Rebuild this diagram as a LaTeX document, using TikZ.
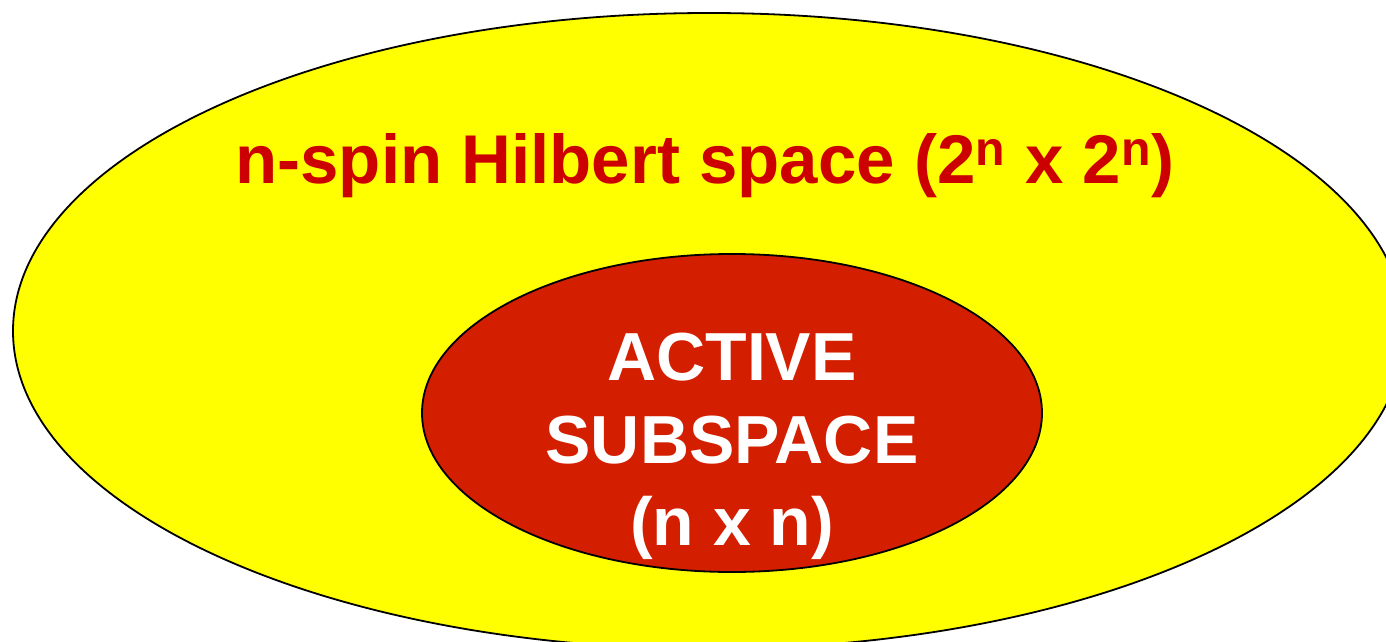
\documentclass[tikz,border=0pt]{standalone}
\usepackage{fontspec}
\setmainfont{Liberation Sans}
\usetikzlibrary{positioning}
\definecolor{spaceyellow}{RGB}{255,255,0}
\definecolor{activered}{RGB}{212,30,0}
\definecolor{titlered}{RGB}{204,0,0}

\begin{document}
\begin{tikzpicture}[x=0.5pt,y=-0.5pt,
  every node/.style={font=\fontsize{34}{41}\selectfont\bfseries,inner sep=0pt,anchor=base},
  rim/.style={draw=black,line width=.9pt}]
\useasboundingbox (0,0) rectangle (1386,642);
\clip (0,0) rectangle (1386,642);
\coordinate (hc) at (709,331);
\coordinate (ac) at (732,413);
\filldraw[rim,fill=spaceyellow] (hc) ellipse [x radius=696, y radius=318];
\filldraw[rim,fill=activered] (ac) ellipse [x radius=310, y radius=159];
\node[text=titlered,font=\fontsize{34.5}{41}\selectfont\bfseries] (hilbert) at (705,184) {n-spin Hilbert space (2\textsuperscript{n} x 2\textsuperscript{n})};
\node[text=white] (active) at (732,380) {ACTIVE};
\node[text=white] (subspace) at (732,463) {SUBSPACE};
\node[text=white] (dimsub) at (732,545) {(n x n)};
\end{tikzpicture}
\end{document}
